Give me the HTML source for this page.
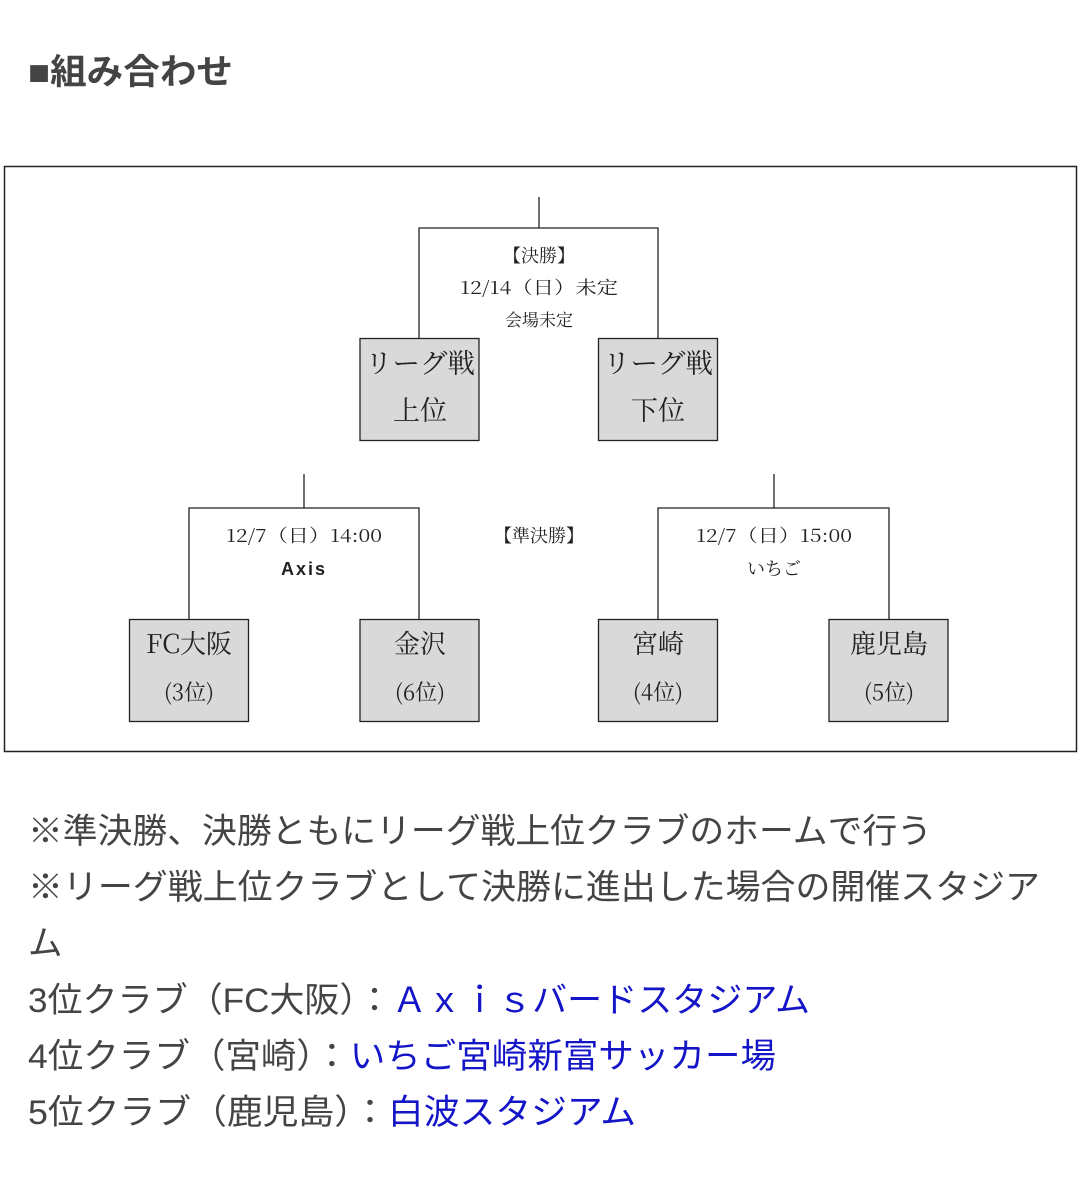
<!DOCTYPE html>
<html><head><meta charset="utf-8"><style>
html,body{margin:0;padding:0;background:#fff;}
svg{display:block;}
.s{font-family:"Noto Serif CJK SC",serif;fill:#222;}
.g{font-family:"Liberation Sans","Noto Sans CJK JP",sans-serif;fill:#444;}
.b{fill:#1515c8;}
</style></head><body>
<svg width="1080" height="1181" viewBox="0 0 1080 1181" xmlns="http://www.w3.org/2000/svg">
<text class="g" x="28" y="84" font-size="35" font-weight="bold" textLength="205" lengthAdjust="spacingAndGlyphs">■組み合わせ</text>
<rect x="4.5" y="166.5" width="1072" height="585" fill="#fff" stroke="#222" stroke-width="1.5"/>
<g stroke="#222" stroke-width="1.3" fill="none">
<path d="M539 197V228M419 338V228H658V338"/>
<path d="M304 474V508M189 619V508H419V619"/>
<path d="M774 474V508M658 619V508H889V619"/>
</g>
<g fill="#d9d9d9" stroke="#222" stroke-width="1.3">
<rect x="360" y="338.5" width="119" height="102"/>
<rect x="598.5" y="338.5" width="119" height="102"/>
<rect x="129.5" y="619.5" width="119" height="102"/>
<rect x="360" y="619.5" width="119" height="102"/>
<rect x="598.5" y="619.5" width="119" height="102"/>
<rect x="829" y="619.5" width="119" height="102"/>
</g>
<g class="s" text-anchor="middle">
<text x="539" y="262" font-size="18">【決勝】</text>
<text x="539" y="294" font-size="18" textLength="158" lengthAdjust="spacingAndGlyphs">12/14（日）未定</text>
<text x="539" y="326" font-size="17">会場未定</text>
<text x="420" y="373" font-size="27" textLength="110" lengthAdjust="spacingAndGlyphs">リーグ戦</text>
<text x="420" y="420" font-size="27">上位</text>
<text x="658" y="373" font-size="27" textLength="110" lengthAdjust="spacingAndGlyphs">リーグ戦</text>
<text x="658" y="420" font-size="27">下位</text>
<text x="304" y="542" font-size="18" textLength="156" lengthAdjust="spacingAndGlyphs">12/7（日）14:00</text>
<text x="304" y="575" font-size="18" font-family="Liberation Sans Narrow,Liberation Sans,sans-serif" font-weight="bold" letter-spacing="2">Axis</text>
<text x="539" y="542" font-size="18">【準決勝】</text>
<text x="774" y="542" font-size="18" textLength="156" lengthAdjust="spacingAndGlyphs">12/7（日）15:00</text>
<text x="774" y="575" font-size="18">いちご</text>
<text x="189" y="653" font-size="26">FC大阪</text>
<text x="189" y="700" font-size="22">(3位)</text>
<text x="420" y="653" font-size="26">金沢</text>
<text x="420" y="700" font-size="22">(6位)</text>
<text x="658" y="653" font-size="26">宮崎</text>
<text x="658" y="700" font-size="22">(4位)</text>
<text x="889" y="653" font-size="26">鹿児島</text>
<text x="889" y="700" font-size="22">(5位)</text>
</g>
<g class="g" font-size="34.5">
<text x="28" y="843" textLength="904" lengthAdjust="spacingAndGlyphs">※準決勝、決勝ともにリーグ戦上位クラブのホームで行う</text>
<text x="28" y="899" textLength="1012" lengthAdjust="spacingAndGlyphs">※リーグ戦上位クラブとして決勝に進出した場合の開催スタジア</text>
<text x="28" y="955">ム</text>
<text x="28" y="1012" textLength="782" lengthAdjust="spacingAndGlyphs">3位クラブ（FC大阪）：<tspan class="b">Ａｘｉｓバードスタジアム</tspan></text>
<text x="28" y="1068" textLength="748" lengthAdjust="spacingAndGlyphs">4位クラブ（宮崎）：<tspan class="b">いちご宮崎新富サッカー場</tspan></text>
<text x="28" y="1124" textLength="608" lengthAdjust="spacingAndGlyphs">5位クラブ（鹿児島）：<tspan class="b">白波スタジアム</tspan></text>
</g>
</svg>
</body></html>
